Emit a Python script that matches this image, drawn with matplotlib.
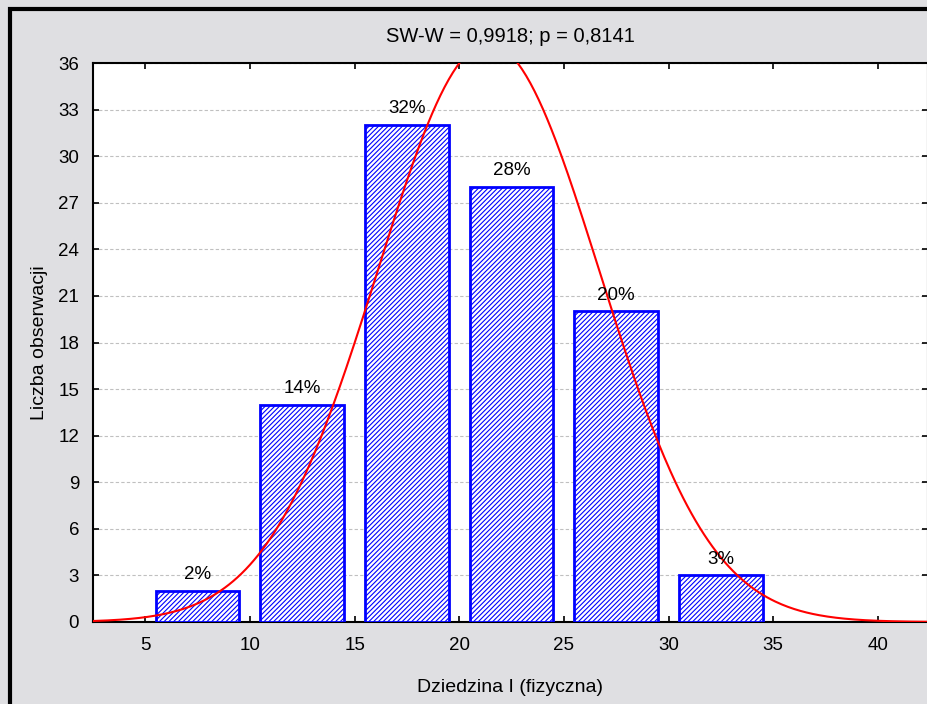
import numpy as np
import matplotlib
matplotlib.use("Agg")
from matplotlib import pyplot as plt
from matplotlib.patches import Rectangle

plt.rcParams['font.family'] = ['Liberation Sans', 'DejaVu Sans']
plt.rcParams['hatch.color'] = '#6b6bff'
plt.rcParams['hatch.linewidth'] = 0.8

# dane
bin_centers = [7.5, 12.5, 17.5, 22.5, 27.5, 32.5]
counts = [2, 14, 32, 28, 20, 3]
pct_labels = ['2%', '14%', '32%', '28%', '20%', '3%']
y_ticks = [0, 3, 6, 9, 12, 15, 18, 21, 24, 27, 30, 33, 36]
x_ticks = [5, 10, 15, 20, 25, 30, 35, 40]
# parametry krzywej normalnej
mu, sigma, bin_w = 21.4, 5.3, 5

bg = '#dfdfe2'
fig = plt.figure(figsize=(9.28, 7.04), dpi=100, facecolor=bg)
# czarna ramka (lewa i górna krawędź)
fig.patches.append(Rectangle((10.5 / 928, -0.1), 1.2, (704 - 8.5) / 704 + 0.1,
                             transform=fig.transFigure, fill=False,
                             edgecolor='black', linewidth=3))

ax = fig.add_axes([93 / 928, (704 - 622) / 704, (928 - 93) / 928, (622 - 63) / 704])
ax.set_facecolor('white')

ax.bar(bin_centers, counts, width=4, facecolor='white', edgecolor='#0000ff',
       linewidth=2, hatch='///////', zorder=3)
for xc, c, lab in zip(bin_centers, counts, pct_labels):
    ax.text(xc, c + 0.5, lab, ha='center', va='bottom', fontsize=13.5, zorder=5)

xs = np.linspace(2.5, 42.4, 400)
ys = sum(counts) * bin_w / (sigma * np.sqrt(2 * np.pi)) * np.exp(-(xs - mu) ** 2 / (2 * sigma ** 2))
ax.plot(xs, ys, color='red', linewidth=1.5, zorder=4, clip_on=True)

ax.set_xlim(2.5, 42.4)
ax.set_ylim(0, 36)
ax.set_xticks(x_ticks)
ax.set_yticks(y_ticks)
ax.tick_params(direction='in', length=4, width=1.2, labelsize=13.5, top=True, right=True,
               pad=10, colors='black')
ax.tick_params(axis='x', pad=11)
ax.grid(axis='y', linestyle=(0, (3, 2)), color='#c0c0c0', linewidth=0.8, zorder=0)
for s in ax.spines.values():
    s.set_linewidth(1.5)

ax.set_title('SW-W = 0,9918; p = 0,8141', fontsize=14.5, pad=15)
ax.set_xlabel('Dziedzina I (fizyczna)', fontsize=14, labelpad=18)
ax.set_ylabel('Liczba obserwacji', fontsize=14, labelpad=7)

fig.savefig('out.png', dpi=100, facecolor=bg)
